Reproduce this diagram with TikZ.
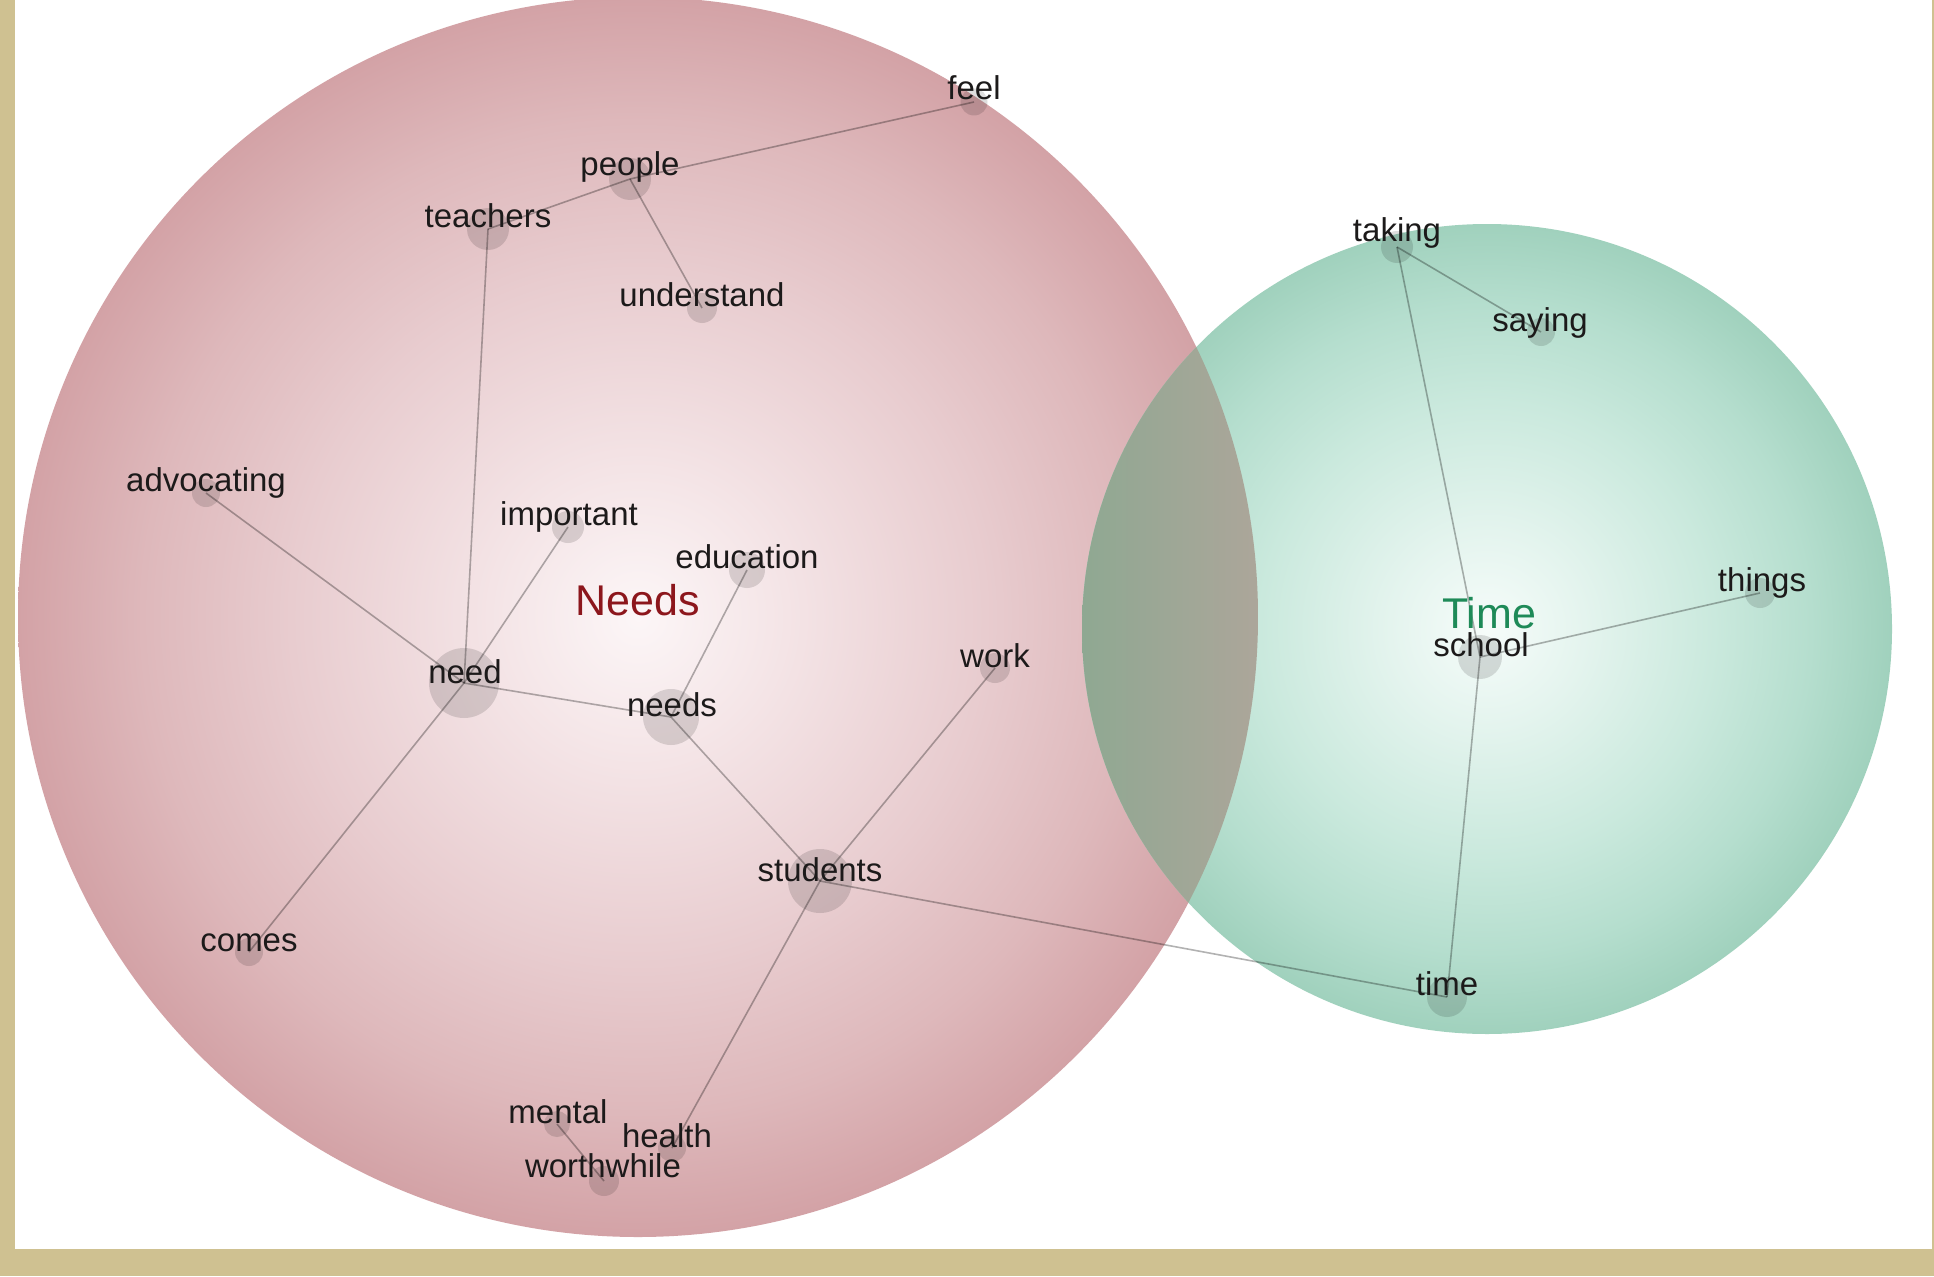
\documentclass[tikz,border=0pt]{standalone}
\usepackage{fontspec}
\setmainfont{Liberation Sans}

% frame and page colours
\definecolor{frametan}{RGB}{207,193,145}
\definecolor{wordink}{RGB}{28,26,26}
\definecolor{needsred}{RGB}{140,22,28}
\definecolor{timegreen}{RGB}{30,138,88}
% cluster gradients
\definecolor{nw0}{RGB}{252,246,247}
\definecolor{nw1}{RGB}{244,228,230}
\definecolor{nw2}{RGB}{232,204,207}
\definecolor{nw3}{RGB}{222,184,187}
\definecolor{nw4}{RGB}{211,162,166}
\definecolor{tg0}{RGB}{246,252,250}
\definecolor{tg1}{RGB}{228,244,238}
\definecolor{tg2}{RGB}{202,233,221}
\definecolor{tg3}{RGB}{181,222,206}
\definecolor{tg4}{RGB}{160,209,189}
\definecolor{mixleft}{RGB}{143,168,146}
\definecolor{mixright}{RGB}{172,166,154}

\pgfdeclareradialshading{needsglow}{\pgfpoint{0bp}{0bp}}{%
  color(0bp)=(nw0); color(6bp)=(nw1); color(14bp)=(nw2);
  color(20bp)=(nw3); color(25bp)=(nw4); color(50bp)=(nw4)}
\pgfdeclareradialshading{timeglow}{\pgfpoint{0bp}{0bp}}{%
  color(0bp)=(tg0); color(6bp)=(tg1); color(14bp)=(tg2);
  color(20bp)=(tg3); color(25bp)=(tg4); color(50bp)=(tg4)}

\tikzset{
  word/.style={font=\fontsize{33}{40}\selectfont, text=wordink, anchor=base, inner sep=0pt},
  topic/.style={font=\fontsize{43}{50}\selectfont, inner sep=0pt, anchor=center},
  blob/.style={circle, fill=black, fill opacity=0.13, draw=none, inner sep=0pt, minimum size=#1},
  blob/.default=28pt,
  link/.style={draw=black, draw opacity=0.3, line width=1.6pt}
}

\begin{document}
\begin{tikzpicture}[x=1pt,y=-1pt]
  % page with tan frame on left, right and bottom
  \useasboundingbox (0,0) rectangle (1934,1276);
  \fill[frametan] (0,0) rectangle (1934,1276);
  \fill[white] (15,0) rectangle (1932,1249);

  % the two clusters
  \begin{scope}
    \clip (15,0) rectangle (1932,1249);
    \shade[shading=needsglow] (638,617) circle[radius=620pt];
  \end{scope}
  \shade[shading=timeglow] (1487,629) circle[radius=405pt];
  \begin{scope}
    \clip (638,617) circle[radius=620pt];
    \clip (1487,629) circle[radius=405pt];
    \shade[left color=mixleft, right color=mixright] (1082,200) rectangle (1258,1060);
  \end{scope}

  % word positions (dots)
  \node[blob=27pt] (d-feel)       at (974,102) {};
  \node[blob=42pt] (d-people)     at (630,179) {};
  \node[blob=42pt] (d-teachers)   at (488,229) {};
  \node[blob=30pt] (d-understand) at (702,308) {};
  \node[blob=28pt] (d-advocating) at (206,493) {};
  \node[blob=32pt] (d-important)  at (568,527) {};
  \node[blob=36pt] (d-education)  at (747,570) {};
  \node[blob=70pt] (d-need)       at (464,683) {};
  \node[blob=56pt] (d-needs)      at (671,717) {};
  \node[blob=30pt] (d-work)       at (995,668) {};
  \node[blob=64pt] (d-students)   at (820,881) {};
  \node[blob=28pt] (d-comes)      at (249,952) {};
  \node[blob=26pt] (d-mental)     at (557,1124) {};
  \node[blob=28pt] (d-health)     at (672,1148) {};
  \node[blob=30pt] (d-worthwhile) at (604,1181) {};
  \node[blob=32pt] (d-taking)     at (1397,247) {};
  \node[blob=28pt] (d-saying)     at (1541,332) {};
  \node[blob=30pt] (d-things)     at (1760,593) {};
  \node[blob=44pt] (d-school)     at (1480,657) {};
  \node[blob=40pt] (d-time)       at (1447,997) {};

  % co-occurrence links
  \draw[link] (d-feel.center) -- (d-people.center);
  \draw[link] (d-people.center) -- (d-teachers.center);
  \draw[link] (d-people.center) -- (d-understand.center);
  \draw[link] (d-teachers.center) -- (d-need.center);
  \draw[link] (d-advocating.center) -- (d-need.center);
  \draw[link] (d-important.center) -- (d-need.center);
  \draw[link] (d-need.center) -- (d-needs.center);
  \draw[link] (d-need.center) -- (d-comes.center);
  \draw[link] (d-needs.center) -- (d-education.center);
  \draw[link] (d-needs.center) -- (d-students.center);
  \draw[link] (d-students.center) -- (d-work.center);
  \draw[link] (d-students.center) -- (d-health.center);
  \draw[link] (d-students.center) -- (d-time.center);
  \draw[link] (d-mental.center) -- (d-worthwhile.center);
  \draw[link] (d-taking.center) -- (d-saying.center);
  \draw[link] (d-taking.center) -- (d-school.center);
  \draw[link] (d-school.center) -- (d-things.center);
  \draw[link] (d-school.center) -- (d-time.center);

  % words
  \node[word] (w-feel)       at (974,100)  {feel};
  \node[word] (w-people)     at (630,176)  {people};
  \node[word] (w-teachers)   at (488,227)  {teachers};
  \node[word] (w-understand) at (702,306)  {understand};
  \node[word] (w-advocating) at (206,491)  {advocating};
  \node[word] (w-important)  at (569,525)  {important};
  \node[word] (w-education)  at (747,568)  {education};
  \node[word] (w-need)       at (465,683)  {need};
  \node[word] (w-needs)      at (672,716)  {needs};
  \node[word] (w-work)       at (995,667)  {work};
  \node[word] (w-students)   at (820,881)  {students};
  \node[word] (w-comes)      at (249,951)  {comes};
  \node[word] (w-mental)     at (558,1123) {mental};
  \node[word] (w-health)     at (667,1147) {health};
  \node[word] (w-worthwhile) at (603,1177) {worthwhile};
  \node[word] (w-taking)     at (1397,241) {taking};
  \node[word] (w-saying)     at (1540,331) {saying};
  \node[word] (w-things)     at (1762,591) {things};
  \node[word] (w-school)     at (1481,656) {school};
  \node[word] (w-time)       at (1447,995) {time};

  % cluster titles
  \node[topic, text=needsred]  (needs-title) at (638,600) {Needs};
  \node[topic, text=timegreen] (time-title)  at (1489,613) {Time};
\end{tikzpicture}
\end{document}
